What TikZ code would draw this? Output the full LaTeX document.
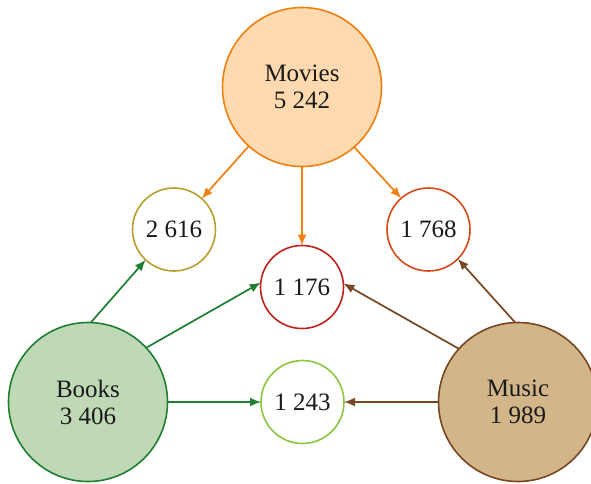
\documentclass[tikz,border=0pt]{standalone}
\usepackage{fontspec}
\setmainfont{Liberation Serif}
\usetikzlibrary{arrows.meta}
\definecolor{movfill}{HTML}{FFDAB0}
\definecolor{movline}{HTML}{F08010}
\definecolor{bokfill}{HTML}{BFD8B5}
\definecolor{bokline}{HTML}{1E8030}
\definecolor{musfill}{HTML}{D2B68A}
\definecolor{musline}{HTML}{784621}
\definecolor{cA}{HTML}{B89E2C}
\definecolor{cB}{HTML}{C0201A}
\definecolor{cC}{HTML}{D64A18}
\definecolor{cD}{HTML}{8CC63F}
\definecolor{txt}{HTML}{1A1A1A}
\begin{document}
\begin{tikzpicture}[x=1pt,y=-1pt,
  every node/.style={font=\fontsize{25}{27}\selectfont, text=txt, align=center, outer sep=0pt},
  big/.style={circle, draw, line width=1.6pt, minimum size=159pt, inner sep=0pt},
  small/.style={circle, draw, fill=white, line width=1.6pt, minimum size=83pt, inner sep=0pt},
  conn/.style={line width=1.7pt, -{Latex[length=11pt,width=9pt]}}
]
\useasboundingbox (0,0) rectangle (591,483);
\node[big, fill=movfill, draw=movline] (movies) at (302,87) {Movies\\5 242};
\node[big, fill=bokfill, draw=bokline] (books) at (88,402) {Books\\3 406};
\node[big, fill=musfill, draw=musline] (music) at (518,402) {Music\\1 989};
\node[small, draw=cA] (a) at (174,229.5) {2 616};
\node[small, draw=cB] (b) at (302,287) {1 176};
\node[small, draw=cC] (c) at (428.5,229.5) {1 768};
\node[small, draw=cD] (d) at (302.5,402) {1 243};
\draw[conn, movline] (movies.228.6) -- (a.48.8);
\draw[conn, movline] (movies.south) -- (b.north);
\draw[conn, movline] (movies.311.4) -- (c.131.2);
\draw[conn, bokline] (books.88.6) -- (a.227);
\draw[conn, bokline] (books.43) -- (b.174);
\draw[conn, bokline] (books.east) -- (d.west);
\draw[conn, musline] (music.92.9) -- (c.315);
\draw[conn, musline] (music.138) -- (b.5);
\draw[conn, musline] (music.west) -- (d.east);
\end{tikzpicture}
\end{document}
